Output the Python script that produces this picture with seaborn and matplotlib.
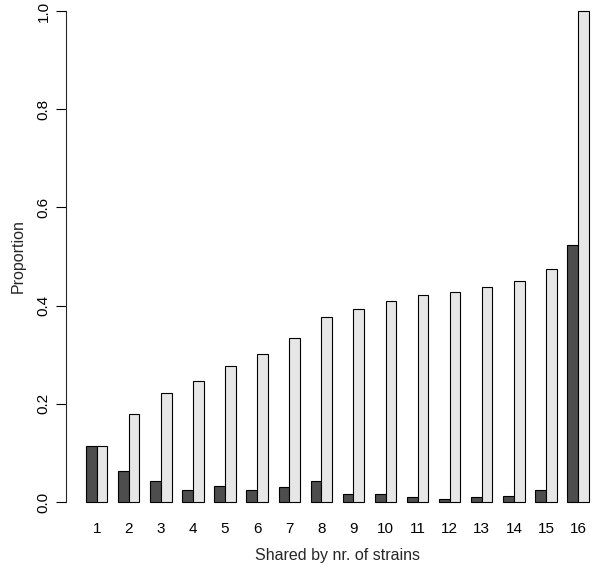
import pandas as pd
import numpy as np
import matplotlib
matplotlib.use("Agg")
import matplotlib.pyplot as plt
import seaborn as sns

# ---------------- DATA ----------------
strains = [str(i) for i in range(1, 17)]
dark_vals = [0.114, 0.063, 0.043, 0.024, 0.033, 0.024, 0.031, 0.043,
             0.016, 0.016, 0.010, 0.006, 0.010, 0.012, 0.024, 0.523]
light_vals = [0.114, 0.179, 0.222, 0.246, 0.277, 0.301, 0.334, 0.377,
              0.393, 0.409, 0.422, 0.428, 0.438, 0.450, 0.474, 1.000]
series = ["a", "b"]
y_ticks = [0.0, 0.2, 0.4, 0.6, 0.8, 1.0]

df = pd.DataFrame({
    "strains": strains * 2,
    "prop": dark_vals + light_vals,
    "series": [series[0]] * 16 + [series[1]] * 16,
})

# ---------------- PLOT ----------------
sns.set_style("white")
plt.rcParams["font.family"] = ["Liberation Sans", "DejaVu Sans"]

fig = plt.figure(figsize=(6, 5.67), dpi=100)
ax = fig.add_axes([0.1098, 0.0801, 0.905, 0.935])

sns.barplot(
    data=df, x="strains", y="prop", hue="series",
    order=strains, hue_order=series,
    palette=["#4D4D4D", "#E6E6E6"], saturation=1,
    width=2 / 3, edgecolor="black", linewidth=0.8,
    legend=False, ax=ax,
)

ax.set_xlim(-0.96, 15.96)
ax.set_ylim(-0.04, 1.04)

for s in ["top", "right", "bottom"]:
    ax.spines[s].set_visible(False)
ax.spines["left"].set_bounds(0, 1)
ax.spines["left"].set_linewidth(0.8)

ax.set_yticks(y_ticks)
ax.set_yticklabels([f"{t:.1f}" for t in y_ticks], rotation=90, va="center",
                   fontsize=11)
ax.tick_params(axis="y", direction="out", length=7, width=0.8, pad=4, left=True,
               colors="black")
ax.tick_params(axis="x", length=0, pad=0, labelsize=11, colors="black")

ax.set_xlabel("Shared by nr. of strains", fontsize=11.5, labelpad=9)
ax.set_ylabel("Proportion", fontsize=11.5, labelpad=8)

fig.savefig("out.png", dpi=100)
